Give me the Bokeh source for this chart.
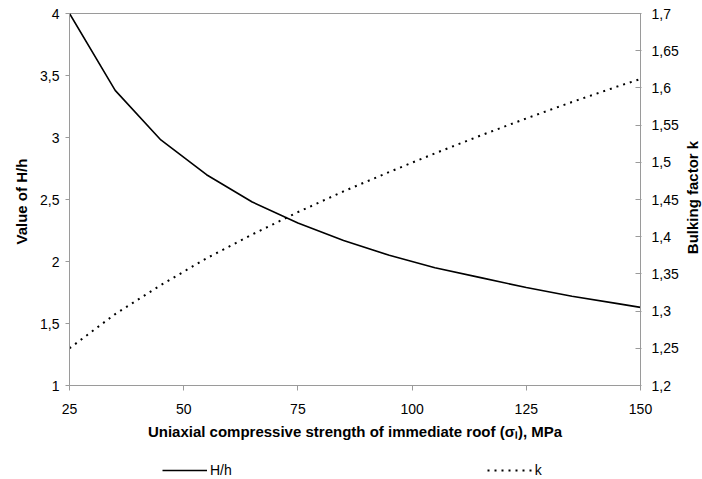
from bokeh.plotting import figure
from bokeh.models import Range1d, LinearAxis, FixedTicker, Legend, LegendItem, Label
from bokeh.layouts import column
from bokeh.embed import file_html
from bokeh.resources import INLINE
import math

# ---- data ----
strength = [25, 35, 45, 55, 65, 75, 85, 95, 105, 115, 125, 135, 145, 150]
h_ratio = [4.00, 3.38, 2.98, 2.70, 2.48, 2.31, 2.17, 2.05, 1.95, 1.87, 1.79, 1.72, 1.66, 1.63]
bulking = [1.250, 1.296, 1.335, 1.371, 1.403, 1.433, 1.461, 1.487, 1.512, 1.536, 1.559, 1.581, 1.602, 1.612]

x_ticks = [25, 50, 75, 100, 125, 150]
left_ticks = [1, 1.5, 2, 2.5, 3, 3.5, 4]
left_labels = ["1", "1,5", "2", "2,5", "3", "3,5", "4"]
right_ticks = [1.2, 1.25, 1.3, 1.35, 1.4, 1.45, 1.5, 1.55, 1.6, 1.65, 1.7]
right_labels = ["1,2", "1,25", "1,3", "1,35", "1,4", "1,45", "1,5", "1,55", "1,6", "1,65", "1,7"]

x_title = "Uniaxial compressive strength of immediate roof (σₗ), MPa"
left_title = "Value of  H/h"
right_title = "Bulking factor k"
series_names = ["H/h", "k"]

FONT = "Liberation Sans"
GRAY = "#9a9a9a"

p = figure(width=702, height=450, output_backend="svg", toolbar_location=None,
           x_range=Range1d(25, 150), y_range=Range1d(1, 4),
           min_border_left=69, min_border_right=62, min_border_top=13, min_border_bottom=65)
p.extra_y_ranges = {"k": Range1d(1.2, 1.7)}
p.grid.visible = False
p.outline_line_color = GRAY
p.outline_line_width = 1
p.background_fill_color = "white"
p.border_fill_color = "white"

def style_axis(ax):
    ax.axis_line_color = GRAY
    ax.major_tick_line_color = GRAY
    ax.minor_tick_line_color = None
    ax.major_label_text_font = FONT
    ax.major_label_text_font_size = "14px"
    ax.major_label_text_color = "black"
    ax.axis_label_text_font = FONT
    ax.axis_label_text_font_size = "15px"
    ax.axis_label_text_font_style = "bold"
    ax.axis_label_text_color = "black"

xa = p.xaxis[0]
style_axis(xa)
xa.ticker = FixedTicker(ticks=x_ticks)
xa.major_tick_in = 0
xa.major_tick_out = 5
xa.major_label_standoff = 13
xa.axis_label = x_title
xa.axis_label_standoff = 6

ya = p.yaxis[0]
style_axis(ya)
ya.ticker = FixedTicker(ticks=left_ticks)
ya.major_label_overrides = {t: l for t, l in zip(left_ticks, left_labels)}
ya.major_tick_in = 0
ya.major_tick_out = 4
ya.major_label_standoff = 6
ya.axis_label = left_title
ya.axis_label_standoff = 7

ra = LinearAxis(y_range_name="k", ticker=FixedTicker(ticks=right_ticks))
style_axis(ra)
ra.major_label_overrides = {t: l for t, l in zip(right_ticks, right_labels)}
ra.major_tick_in = 5
ra.major_tick_out = 1
ra.major_label_standoff = 10
p.add_layout(ra, "right")

# right-hand axis title, reading bottom to top, in the right side panel
rt = Label(x=11, y=188, x_units="screen", y_units="screen", text=right_title,
           angle=math.pi / 2, text_align="center", text_baseline="middle",
           text_font=FONT, text_font_size="15px", text_font_style="bold",
           text_color="black")
p.add_layout(rt, "right")

p.line(strength, h_ratio, line_color="black", line_width=1.6)
p.line(strength, bulking, y_range_name="k", line_color="black",
       line_width=2, line_dash="2 5")

# legend strip below the chart (its proxy lines fall outside this strip's ranges)
p2 = figure(width=702, height=29, output_backend="svg", toolbar_location=None,
            x_range=Range1d(0, 1), y_range=Range1d(0, 1),
            x_axis_location=None, y_axis_location=None,
            min_border_left=0, min_border_right=0, min_border_top=0, min_border_bottom=0)
p2.grid.visible = False
p2.outline_line_color = None
p2.background_fill_color = "white"
p2.border_fill_color = "white"
q1 = p2.line(strength, h_ratio, line_color="black", line_width=1.6)
q2 = p2.line(strength, bulking, line_color="black", line_width=2, line_dash="2 5")

legend = Legend(items=[LegendItem(label=series_names[0], renderers=[q1]),
                       LegendItem(label=series_names[1], renderers=[q2])],
                orientation="horizontal", location=(93, 1),
                glyph_width=45, glyph_height=16, label_height=16, label_width=20,
                label_standoff=3, spacing=255, padding=0, margin=0,
                border_line_color=None, background_fill_alpha=0,
                label_text_font=FONT, label_text_font_size="14px",
                label_text_color="black")
p2.add_layout(legend)

layout = column(p, p2, spacing=0)
open("out.html", "w").write(file_html(layout, INLINE))
